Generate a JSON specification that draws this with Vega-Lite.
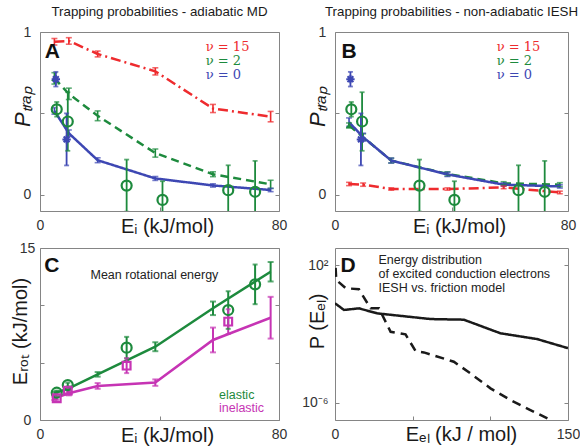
{
  "$schema": "https://vega.github.io/schema/vega-lite/v6.json",
  "background": "white",
  "padding": {"left": 9, "top": 4, "right": 0, "bottom": 0},
  "datasets": {
    "trap": [
      {"panel": "A", "series": "ν=15", "E": 4.82, "P": 0.94, "lo": 0.92, "hi": 0.96},
      {"panel": "A", "series": "ν=15", "E": 9.65, "P": 0.945, "lo": 0.925, "hi": 0.965},
      {"panel": "A", "series": "ν=15", "E": 19.3, "P": 0.865, "lo": 0.847, "hi": 0.883},
      {"panel": "A", "series": "ν=15", "E": 38.6, "P": 0.758, "lo": 0.736, "hi": 0.78},
      {"panel": "A", "series": "ν=15", "E": 57.9, "P": 0.53, "lo": 0.505, "hi": 0.555},
      {"panel": "A", "series": "ν=15", "E": 77.2, "P": 0.48, "lo": 0.448, "hi": 0.512},
      {"panel": "A", "series": "ν=2", "E": 4.82, "P": 0.715, "lo": 0.68, "hi": 0.75},
      {"panel": "A", "series": "ν=2", "E": 9.65, "P": 0.62, "lo": 0.585, "hi": 0.655},
      {"panel": "A", "series": "ν=2", "E": 19.3, "P": 0.485, "lo": 0.455, "hi": 0.515},
      {"panel": "A", "series": "ν=2", "E": 38.6, "P": 0.256, "lo": 0.231, "hi": 0.281},
      {"panel": "A", "series": "ν=2", "E": 57.9, "P": 0.126, "lo": 0.111, "hi": 0.141},
      {"panel": "A", "series": "ν=2", "E": 77.2, "P": 0.064, "lo": 0.039, "hi": 0.089},
      {"panel": "A", "series": "ν=0", "E": 4.82, "P": 0.515, "lo": 0.495, "hi": 0.535},
      {"panel": "A", "series": "ν=0", "E": 9.65, "P": 0.378, "lo": 0.358, "hi": 0.398},
      {"panel": "A", "series": "ν=0", "E": 19.3, "P": 0.212, "lo": 0.197, "hi": 0.227},
      {"panel": "A", "series": "ν=0", "E": 38.6, "P": 0.1, "lo": 0.088, "hi": 0.112},
      {"panel": "A", "series": "ν=0", "E": 57.9, "P": 0.057, "lo": 0.047, "hi": 0.067},
      {"panel": "A", "series": "ν=0", "E": 77.2, "P": 0.029, "lo": 0.019, "hi": 0.039},
      {"panel": "B", "series": "ν=15", "E": 4.82, "P": 0.066, "lo": 0.056, "hi": 0.076},
      {"panel": "B", "series": "ν=15", "E": 9.65, "P": 0.062, "lo": 0.052, "hi": 0.072},
      {"panel": "B", "series": "ν=15", "E": 19.3, "P": 0.035, "lo": 0.028, "hi": 0.042},
      {"panel": "B", "series": "ν=15", "E": 38.6, "P": 0.035, "lo": 0.028, "hi": 0.042},
      {"panel": "B", "series": "ν=15", "E": 57.9, "P": 0.045, "lo": 0.037, "hi": 0.053},
      {"panel": "B", "series": "ν=15", "E": 77.2, "P": 0.014, "lo": 0.006, "hi": 0.022},
      {"panel": "B", "series": "ν=2", "E": 4.82, "P": 0.426, "lo": 0.411, "hi": 0.441},
      {"panel": "B", "series": "ν=2", "E": 9.65, "P": 0.354, "lo": 0.334, "hi": 0.374},
      {"panel": "B", "series": "ν=2", "E": 19.3, "P": 0.21, "lo": 0.195, "hi": 0.225},
      {"panel": "B", "series": "ν=2", "E": 38.6, "P": 0.128, "lo": 0.115, "hi": 0.141},
      {"panel": "B", "series": "ν=2", "E": 57.9, "P": 0.07, "lo": 0.06, "hi": 0.08},
      {"panel": "B", "series": "ν=2", "E": 77.2, "P": 0.062, "lo": 0.05, "hi": 0.074},
      {"panel": "B", "series": "ν=0", "E": 4.82, "P": 0.446, "lo": 0.42, "hi": 0.472},
      {"panel": "B", "series": "ν=0", "E": 9.65, "P": 0.354, "lo": 0.33, "hi": 0.378},
      {"panel": "B", "series": "ν=0", "E": 19.3, "P": 0.21, "lo": 0.195, "hi": 0.225},
      {"panel": "B", "series": "ν=0", "E": 38.6, "P": 0.125, "lo": 0.112, "hi": 0.138},
      {"panel": "B", "series": "ν=0", "E": 57.9, "P": 0.062, "lo": 0.052, "hi": 0.072},
      {"panel": "B", "series": "ν=0", "E": 77.2, "P": 0.051, "lo": 0.041, "hi": 0.061}
    ],
    "trapExp": [
      {"series": "ν=2", "E": 5.6, "P": 0.525, "lo": 0.48, "hi": 0.57},
      {"series": "ν=2", "E": 9.3, "P": 0.45, "lo": 0.27, "hi": 0.63},
      {"series": "ν=2", "E": 29, "P": 0.056, "lo": -0.104, "hi": 0.216},
      {"series": "ν=2", "E": 41, "P": -0.032, "lo": -0.147, "hi": 0.083},
      {"series": "ν=2", "E": 63, "P": 0.028, "lo": -0.125, "hi": 0.181},
      {"series": "ν=2", "E": 72, "P": 0.018, "lo": -0.172, "hi": 0.208},
      {"series": "ν=0", "E": 5.3, "P": 0.71, "lo": 0.665, "hi": 0.755},
      {"series": "ν=0", "E": 8.9, "P": 0.34, "lo": 0.18, "hi": 0.5}
    ],
    "erot": [
      {"series": "elastic", "E": 4.82, "v": 2.33, "lo": 2.18, "hi": 2.48},
      {"series": "elastic", "E": 9.65, "v": 2.76, "lo": 2.6, "hi": 2.92},
      {"series": "elastic", "E": 19.3, "v": 3.98, "lo": 3.78, "hi": 4.18},
      {"series": "elastic", "E": 38.6, "v": 6.39, "lo": 6.0, "hi": 6.78},
      {"series": "elastic", "E": 57.9, "v": 9.74, "lo": 9.15, "hi": 10.33},
      {"series": "elastic", "E": 77.2, "v": 12.93, "lo": 12.08, "hi": 13.78},
      {"series": "inelastic", "E": 4.82, "v": 1.89, "lo": 1.74, "hi": 2.04},
      {"series": "inelastic", "E": 9.65, "v": 2.33, "lo": 2.15, "hi": 2.51},
      {"series": "inelastic", "E": 19.3, "v": 2.97, "lo": 2.72, "hi": 3.22},
      {"series": "inelastic", "E": 38.6, "v": 3.26, "lo": 2.98, "hi": 3.54},
      {"series": "inelastic", "E": 57.9, "v": 6.98, "lo": 5.9, "hi": 8.06},
      {"series": "inelastic", "E": 77.2, "v": 8.92, "lo": 7.1, "hi": 10.74}
    ],
    "erotExp": [
      {"series": "elastic", "E": 5.6, "v": 2.38, "lo": 2.2, "hi": 2.56},
      {"series": "elastic", "E": 9.3, "v": 3.05, "lo": 2.85, "hi": 3.25},
      {"series": "elastic", "E": 29, "v": 6.31, "lo": 5.37, "hi": 7.25},
      {"series": "elastic", "E": 63, "v": 9.59, "lo": 7.95, "hi": 11.23},
      {"series": "elastic", "E": 72, "v": 11.83, "lo": 10.1, "hi": 13.56},
      {"series": "inelastic", "E": 5.6, "v": 1.89, "lo": 1.75, "hi": 2.03},
      {"series": "inelastic", "E": 9.3, "v": 2.56, "lo": 2.36, "hi": 2.76},
      {"series": "inelastic", "E": 29, "v": 4.74, "lo": 4.09, "hi": 5.39},
      {"series": "inelastic", "E": 63, "v": 8.58, "lo": 7.5, "hi": 9.66}
    ],
    "eel": [
      {"model": "IESH", "E": 0, "P": 0.61},
      {"model": "IESH", "E": 5.8, "P": 0.25},
      {"model": "IESH", "E": 15.4, "P": 0.31},
      {"model": "IESH", "E": 27.2, "P": 0.158},
      {"model": "IESH", "E": 61.5, "P": 0.074},
      {"model": "IESH", "E": 82.9, "P": 0.068},
      {"model": "IESH", "E": 106.5, "P": 0.011},
      {"model": "IESH", "E": 130, "P": 0.0051},
      {"model": "IESH", "E": 150, "P": 0.0015},
      {"model": "friction", "E": 0.4, "P": 70},
      {"model": "friction", "E": 0.8, "P": 14},
      {"model": "friction", "E": 6.9, "P": 4.6},
      {"model": "friction", "E": 15.4, "P": 4.0},
      {"model": "friction", "E": 22.9, "P": 0.31},
      {"model": "friction", "E": 28.3, "P": 0.31},
      {"model": "friction", "E": 35.8, "P": 0.0135},
      {"model": "friction", "E": 45.4, "P": 0.0095},
      {"model": "friction", "E": 51.9, "P": 0.001},
      {"model": "friction", "E": 57.2, "P": 0.00085},
      {"model": "friction", "E": 76.5, "P": 0.000245},
      {"model": "friction", "E": 87.2, "P": 0.000051},
      {"model": "friction", "E": 100.1, "P": 0.0000069},
      {"model": "friction", "E": 113, "P": 0.00000145},
      {"model": "friction", "E": 125.8, "P": 0.00000038},
      {"model": "friction", "E": 141, "P": 0.00000008}
    ]
  },
  "columns": 2,
  "bounds": "flush",
  "spacing": {"row": 37, "column": 56},
  "resolve": {"scale": {"color": "independent", "strokeDash": "independent"}},
  "concat": [
    {
      "width": 239,
      "height": 179,
      "title": {"text": "Trapping probabilities - adiabatic MD"},
      "resolve": {"axis": {"y": "independent"}},
      "layer": [
        {
          "layer": [
            {
              "data": {"name": "trap"},
              "transform": [{"filter": "datum.panel === 'A'"}],
              "mark": {"type": "line", "strokeWidth": 2.5, "clip": true},
              "encoding": {
                "x": {"field": "E", "type": "quantitative", "scale": {"domain": [0, 80], "nice": false, "zero": false},
                      "axis": {"values": [0, 40, 80], "labelExpr": "datum.value == 40 ? '' : datum.label", "title": "Eᵢ (kJ/mol)", "titleX": 127, "titleY": 21}},
                "y": {"field": "P", "type": "quantitative", "scale": {"domain": [-0.1, 1], "nice": false, "zero": false},
                      "axis": {"values": [0, 0.5, 1], "labelExpr": "datum.value == 0 ? '0' : datum.value == 1 ? '1' : ''", "title": "Pₜᵣₐₚ", "titleFontStyle": "italic", "titleFontSize": 22, "titleX": -11, "titleY": 74}},
                "color": {"field": "series", "type": "nominal", "scale": {"domain": ["ν=15", "ν=2", "ν=0"], "range": ["#ee2b2e", "#1d8a3d", "#3d47b3"]}, "legend": null},
                "strokeDash": {"field": "series", "type": "nominal", "scale": {"domain": ["ν=15", "ν=2", "ν=0"], "range": [[10, 4, 2, 4], [8, 5], [1, 0]]}, "legend": null}
              }
            },
            {
              "data": {"name": "trap"},
              "transform": [{"filter": "datum.panel === 'A'"}],
              "mark": {"type": "rule", "strokeWidth": 1.6, "clip": true},
              "encoding": {"x": {"field": "E", "type": "quantitative"}, "y": {"field": "lo", "type": "quantitative"}, "y2": {"field": "hi"}, "color": {"field": "series", "type": "nominal", "legend": null}}
            },
            {
              "data": {"name": "trap"},
              "transform": [{"filter": "datum.panel === 'A'"}],
              "mark": {"type": "tick", "orient": "horizontal", "size": 6, "thickness": 1.6, "clip": true},
              "encoding": {"x": {"field": "E", "type": "quantitative"}, "y": {"field": "lo", "type": "quantitative"}, "color": {"field": "series", "type": "nominal", "legend": null}}
            },
            {
              "data": {"name": "trap"},
              "transform": [{"filter": "datum.panel === 'A'"}],
              "mark": {"type": "tick", "orient": "horizontal", "size": 6, "thickness": 1.6, "clip": true},
              "encoding": {"x": {"field": "E", "type": "quantitative"}, "y": {"field": "hi", "type": "quantitative"}, "color": {"field": "series", "type": "nominal", "legend": null}}
            },
            {
              "data": {"name": "trap"},
              "transform": [{"filter": "datum.panel === 'A' && datum.series === 'ν=2' && datum.E < 5"}],
              "mark": {"type": "point", "shape": "triangle-up", "size": 40, "filled": true, "opacity": 1},
              "encoding": {"x": {"field": "E", "type": "quantitative"}, "y": {"field": "P", "type": "quantitative"}, "color": {"field": "series", "type": "nominal", "legend": null}}
            },
            {
              "data": {"name": "trapExp"},
              "mark": {"type": "rule", "strokeWidth": 1.8, "clip": true},
              "encoding": {"x": {"field": "E", "type": "quantitative"}, "y": {"field": "lo", "type": "quantitative"}, "y2": {"field": "hi"}, "color": {"field": "series", "type": "nominal", "legend": null}}
            },
            {
              "data": {"name": "trapExp"},
              "mark": {"type": "tick", "orient": "horizontal", "size": 5, "thickness": 1.8, "clip": true},
              "encoding": {"x": {"field": "E", "type": "quantitative"}, "y": {"field": "lo", "type": "quantitative"}, "color": {"field": "series", "type": "nominal", "legend": null}}
            },
            {
              "data": {"name": "trapExp"},
              "mark": {"type": "tick", "orient": "horizontal", "size": 5, "thickness": 1.8, "clip": true},
              "encoding": {"x": {"field": "E", "type": "quantitative"}, "y": {"field": "hi", "type": "quantitative"}, "color": {"field": "series", "type": "nominal", "legend": null}}
            },
            {
              "data": {"name": "trapExp"},
              "transform": [{"filter": "datum.series === 'ν=2'"}],
              "mark": {"type": "point", "shape": "circle", "size": 100, "strokeWidth": 2.2, "filled": false, "opacity": 1, "clip": true},
              "encoding": {"x": {"field": "E", "type": "quantitative"}, "y": {"field": "P", "type": "quantitative"}, "color": {"field": "series", "type": "nominal", "legend": null}}
            },
            {
              "data": {"name": "trapExp"},
              "transform": [{"filter": "datum.series === 'ν=0'"}],
              "mark": {"type": "point", "shape": "M-1,0H1M0,-1V1M-0.7,-0.7L0.7,0.7M-0.7,0.7L0.7,-0.7", "size": 70, "strokeWidth": 2, "filled": false, "opacity": 1},
              "encoding": {"x": {"field": "E", "type": "quantitative"}, "y": {"field": "P", "type": "quantitative"}, "color": {"field": "series", "type": "nominal", "legend": null}}
            },
            {
              "data": {"values": [{}]},
              "mark": {"type": "text", "text": "ν = 15", "font": "DejaVu Serif", "fontSize": 13, "align": "left", "baseline": "middle"},
              "encoding": {"x": {"datum": 55.5, "type": "quantitative"}, "y": {"datum": 0.905, "type": "quantitative"}, "color": {"datum": "ν=15", "type": "nominal", "legend": null}}
            },
            {
              "data": {"values": [{}]},
              "mark": {"type": "text", "text": "ν = 2", "font": "DejaVu Serif", "fontSize": 13, "align": "left", "baseline": "middle"},
              "encoding": {"x": {"datum": 55.5, "type": "quantitative"}, "y": {"datum": 0.819, "type": "quantitative"}, "color": {"datum": "ν=2", "type": "nominal", "legend": null}}
            },
            {
              "data": {"values": [{}]},
              "mark": {"type": "text", "text": "ν = 0", "font": "DejaVu Serif", "fontSize": 13, "align": "left", "baseline": "middle"},
              "encoding": {"x": {"datum": 55.5, "type": "quantitative"}, "y": {"datum": 0.733, "type": "quantitative"}, "color": {"datum": "ν=0", "type": "nominal", "legend": null}}
            },
            {
              "data": {"values": [{}]},
              "mark": {"type": "text", "text": "A", "fontSize": 21, "fontWeight": "bold", "align": "left", "baseline": "alphabetic", "color": "#111"},
              "encoding": {"x": {"datum": 1.6, "type": "quantitative"}, "y": {"datum": 0.84, "type": "quantitative"}}
            }
          ]
        },
        {
          "data": {"name": "trap"},
          "transform": [{"filter": "datum.panel === 'A'"}],
          "mark": {"type": "point", "opacity": 0},
          "encoding": {
            "y": {"field": "P", "type": "quantitative", "axis": {"orient": "right", "values": [0, 0.5, 1], "labels": false, "title": null}}
          }
        }
      ]
    },
    {
      "width": 233,
      "height": 179,
      "title": {"text": "Trapping probabilities - non-adiabatic IESH"},
      "resolve": {"axis": {"y": "independent"}},
      "layer": [
        {
          "layer": [
            {
              "data": {"name": "trap"},
              "transform": [{"filter": "datum.panel === 'B'"}],
              "mark": {"type": "line", "strokeWidth": 2.5, "clip": true},
              "encoding": {
                "x": {"field": "E", "type": "quantitative", "scale": {"domain": [0, 80], "nice": false, "zero": false},
                      "axis": {"values": [0, 40, 80], "labelExpr": "datum.value == 40 ? '' : datum.label", "title": "Eᵢ (kJ/mol)", "titleX": 124, "titleY": 21}},
                "y": {"field": "P", "type": "quantitative", "scale": {"domain": [-0.1, 1], "nice": false, "zero": false},
                      "axis": {"values": [0, 0.5, 1], "labelExpr": "datum.value == 0 ? '0' : datum.value == 1 ? '1' : ''", "title": "Pₜᵣₐₚ", "titleFontStyle": "italic", "titleFontSize": 22, "titleX": -11, "titleY": 74}},
                "color": {"field": "series", "type": "nominal", "scale": {"domain": ["ν=15", "ν=2", "ν=0"], "range": ["#ee2b2e", "#1d8a3d", "#3d47b3"]}, "legend": null},
                "strokeDash": {"field": "series", "type": "nominal", "scale": {"domain": ["ν=15", "ν=2", "ν=0"], "range": [[10, 4, 2, 4], [8, 5], [1, 0]]}, "legend": null}
              }
            },
            {
              "data": {"name": "trap"},
              "transform": [{"filter": "datum.panel === 'B'"}],
              "mark": {"type": "rule", "strokeWidth": 1.6, "clip": true},
              "encoding": {"x": {"field": "E", "type": "quantitative"}, "y": {"field": "lo", "type": "quantitative"}, "y2": {"field": "hi"}, "color": {"field": "series", "type": "nominal", "legend": null}}
            },
            {
              "data": {"name": "trap"},
              "transform": [{"filter": "datum.panel === 'B'"}],
              "mark": {"type": "tick", "orient": "horizontal", "size": 6, "thickness": 1.6, "clip": true},
              "encoding": {"x": {"field": "E", "type": "quantitative"}, "y": {"field": "lo", "type": "quantitative"}, "color": {"field": "series", "type": "nominal", "legend": null}}
            },
            {
              "data": {"name": "trap"},
              "transform": [{"filter": "datum.panel === 'B'"}],
              "mark": {"type": "tick", "orient": "horizontal", "size": 6, "thickness": 1.6, "clip": true},
              "encoding": {"x": {"field": "E", "type": "quantitative"}, "y": {"field": "hi", "type": "quantitative"}, "color": {"field": "series", "type": "nominal", "legend": null}}
            },
            {
              "data": {"name": "trap"},
              "transform": [{"filter": "datum.panel === 'B' && datum.series === 'ν=2' && datum.E < 5"}],
              "mark": {"type": "point", "shape": "triangle-up", "size": 40, "filled": true, "opacity": 1},
              "encoding": {"x": {"field": "E", "type": "quantitative"}, "y": {"field": "P", "type": "quantitative"}, "color": {"field": "series", "type": "nominal", "legend": null}}
            },
            {
              "data": {"name": "trapExp"},
              "mark": {"type": "rule", "strokeWidth": 1.8, "clip": true},
              "encoding": {"x": {"field": "E", "type": "quantitative"}, "y": {"field": "lo", "type": "quantitative"}, "y2": {"field": "hi"}, "color": {"field": "series", "type": "nominal", "legend": null}}
            },
            {
              "data": {"name": "trapExp"},
              "mark": {"type": "tick", "orient": "horizontal", "size": 5, "thickness": 1.8, "clip": true},
              "encoding": {"x": {"field": "E", "type": "quantitative"}, "y": {"field": "lo", "type": "quantitative"}, "color": {"field": "series", "type": "nominal", "legend": null}}
            },
            {
              "data": {"name": "trapExp"},
              "mark": {"type": "tick", "orient": "horizontal", "size": 5, "thickness": 1.8, "clip": true},
              "encoding": {"x": {"field": "E", "type": "quantitative"}, "y": {"field": "hi", "type": "quantitative"}, "color": {"field": "series", "type": "nominal", "legend": null}}
            },
            {
              "data": {"name": "trapExp"},
              "transform": [{"filter": "datum.series === 'ν=2'"}],
              "mark": {"type": "point", "shape": "circle", "size": 100, "strokeWidth": 2.2, "filled": false, "opacity": 1, "clip": true},
              "encoding": {"x": {"field": "E", "type": "quantitative"}, "y": {"field": "P", "type": "quantitative"}, "color": {"field": "series", "type": "nominal", "legend": null}}
            },
            {
              "data": {"name": "trapExp"},
              "transform": [{"filter": "datum.series === 'ν=0'"}],
              "mark": {"type": "point", "shape": "M-1,0H1M0,-1V1M-0.7,-0.7L0.7,0.7M-0.7,0.7L0.7,-0.7", "size": 70, "strokeWidth": 2, "filled": false, "opacity": 1},
              "encoding": {"x": {"field": "E", "type": "quantitative"}, "y": {"field": "P", "type": "quantitative"}, "color": {"field": "series", "type": "nominal", "legend": null}}
            },
            {
              "data": {"values": [{}]},
              "mark": {"type": "text", "text": "ν = 15", "font": "DejaVu Serif", "fontSize": 13, "align": "left", "baseline": "middle"},
              "encoding": {"x": {"datum": 55.5, "type": "quantitative"}, "y": {"datum": 0.905, "type": "quantitative"}, "color": {"datum": "ν=15", "type": "nominal", "legend": null}}
            },
            {
              "data": {"values": [{}]},
              "mark": {"type": "text", "text": "ν = 2", "font": "DejaVu Serif", "fontSize": 13, "align": "left", "baseline": "middle"},
              "encoding": {"x": {"datum": 55.5, "type": "quantitative"}, "y": {"datum": 0.819, "type": "quantitative"}, "color": {"datum": "ν=2", "type": "nominal", "legend": null}}
            },
            {
              "data": {"values": [{}]},
              "mark": {"type": "text", "text": "ν = 0", "font": "DejaVu Serif", "fontSize": 13, "align": "left", "baseline": "middle"},
              "encoding": {"x": {"datum": 55.5, "type": "quantitative"}, "y": {"datum": 0.733, "type": "quantitative"}, "color": {"datum": "ν=0", "type": "nominal", "legend": null}}
            },
            {
              "data": {"values": [{}]},
              "mark": {"type": "text", "text": "B", "fontSize": 21, "fontWeight": "bold", "align": "left", "baseline": "alphabetic", "color": "#111"},
              "encoding": {"x": {"datum": 2.2, "type": "quantitative"}, "y": {"datum": 0.84, "type": "quantitative"}}
            }
          ]
        },
        {
          "data": {"name": "trap"},
          "transform": [{"filter": "datum.panel === 'B'"}],
          "mark": {"type": "point", "opacity": 0},
          "encoding": {
            "y": {"field": "P", "type": "quantitative", "axis": {"orient": "right", "values": [0, 0.5, 1], "labels": false, "title": null}}
          }
        }
      ]
    },
    {
      "width": 239,
      "height": 172,
      "resolve": {"axis": {"y": "independent"}},
      "layer": [
        {
          "layer": [
            {
              "data": {"name": "erot"},
              "mark": {"type": "line", "strokeWidth": 2.5, "clip": true},
              "encoding": {
                "x": {"field": "E", "type": "quantitative", "scale": {"domain": [0, 80], "nice": false, "zero": false},
                      "axis": {"values": [0, 40, 80], "labelExpr": "datum.value == 40 ? '' : datum.label", "title": "Eᵢ (kJ/mol)", "titleX": 127, "titleY": 21}},
                "y": {"field": "v", "type": "quantitative", "scale": {"domain": [0, 15], "nice": false, "zero": false},
                      "axis": {"values": [0, 5, 10, 15], "labelExpr": "datum.value == 0 ? '0' : datum.value == 15 ? '15' : ''", "title": "Eᵣₒₜ (kJ/mol)", "titleX": -14, "titleY": 83}},
                "color": {"field": "series", "type": "nominal", "scale": {"domain": ["elastic", "inelastic"], "range": ["#1d8a3d", "#c634b4"]}, "legend": null}
              }
            },
            {
              "data": {"name": "erot"},
              "mark": {"type": "rule", "strokeWidth": 2, "clip": true},
              "encoding": {"x": {"field": "E", "type": "quantitative"}, "y": {"field": "lo", "type": "quantitative"}, "y2": {"field": "hi"}, "color": {"field": "series", "type": "nominal", "legend": null}}
            },
            {
              "data": {"name": "erot"},
              "mark": {"type": "tick", "orient": "horizontal", "size": 6, "thickness": 2, "clip": true},
              "encoding": {"x": {"field": "E", "type": "quantitative"}, "y": {"field": "lo", "type": "quantitative"}, "color": {"field": "series", "type": "nominal", "legend": null}}
            },
            {
              "data": {"name": "erot"},
              "mark": {"type": "tick", "orient": "horizontal", "size": 6, "thickness": 2, "clip": true},
              "encoding": {"x": {"field": "E", "type": "quantitative"}, "y": {"field": "hi", "type": "quantitative"}, "color": {"field": "series", "type": "nominal", "legend": null}}
            },
            {
              "data": {"name": "erotExp"},
              "mark": {"type": "rule", "strokeWidth": 2, "clip": true},
              "encoding": {"x": {"field": "E", "type": "quantitative"}, "y": {"field": "lo", "type": "quantitative"}, "y2": {"field": "hi"}, "color": {"field": "series", "type": "nominal", "legend": null}}
            },
            {
              "data": {"name": "erotExp"},
              "mark": {"type": "tick", "orient": "horizontal", "size": 5, "thickness": 2, "clip": true},
              "encoding": {"x": {"field": "E", "type": "quantitative"}, "y": {"field": "lo", "type": "quantitative"}, "color": {"field": "series", "type": "nominal", "legend": null}}
            },
            {
              "data": {"name": "erotExp"},
              "mark": {"type": "tick", "orient": "horizontal", "size": 5, "thickness": 2, "clip": true},
              "encoding": {"x": {"field": "E", "type": "quantitative"}, "y": {"field": "hi", "type": "quantitative"}, "color": {"field": "series", "type": "nominal", "legend": null}}
            },
            {
              "data": {"name": "erotExp"},
              "transform": [{"filter": "datum.series === 'elastic'"}],
              "mark": {"type": "point", "shape": "circle", "size": 100, "strokeWidth": 2.2, "filled": false, "opacity": 1},
              "encoding": {"x": {"field": "E", "type": "quantitative"}, "y": {"field": "v", "type": "quantitative"}, "color": {"field": "series", "type": "nominal", "legend": null}}
            },
            {
              "data": {"name": "erotExp"},
              "transform": [{"filter": "datum.series === 'inelastic'"}],
              "mark": {"type": "point", "shape": "square", "size": 60, "strokeWidth": 2.2, "filled": false, "opacity": 1},
              "encoding": {"x": {"field": "E", "type": "quantitative"}, "y": {"field": "v", "type": "quantitative"}, "color": {"field": "series", "type": "nominal", "legend": null}}
            },
            {
              "data": {"values": [{}]},
              "mark": {"type": "text", "text": "Mean rotational energy", "fontSize": 12.5, "align": "center", "baseline": "middle", "color": "#222"},
              "encoding": {"x": {"datum": 38.3, "type": "quantitative"}, "y": {"datum": 12.65, "type": "quantitative"}}
            },
            {
              "data": {"values": [{}]},
              "mark": {"type": "text", "text": "elastic", "fontSize": 12.5, "align": "left", "baseline": "middle"},
              "encoding": {"x": {"datum": 59.9, "type": "quantitative"}, "y": {"datum": 2.2, "type": "quantitative"}, "color": {"datum": "elastic", "type": "nominal", "legend": null}}
            },
            {
              "data": {"values": [{}]},
              "mark": {"type": "text", "text": "inelastic", "fontSize": 12.5, "align": "left", "baseline": "middle"},
              "encoding": {"x": {"datum": 59.9, "type": "quantitative"}, "y": {"datum": 1.05, "type": "quantitative"}, "color": {"datum": "inelastic", "type": "nominal", "legend": null}}
            },
            {
              "data": {"values": [{}]},
              "mark": {"type": "text", "text": "C", "fontSize": 21, "fontWeight": "bold", "align": "left", "baseline": "alphabetic", "color": "#111"},
              "encoding": {"x": {"datum": 1.4, "type": "quantitative"}, "y": {"datum": 12.9, "type": "quantitative"}}
            }
          ]
        },
        {
          "data": {"name": "erot"},
          "mark": {"type": "point", "opacity": 0},
          "encoding": {
            "y": {"field": "v", "type": "quantitative", "axis": {"orient": "right", "values": [0, 5, 10, 15], "labels": false, "title": null}}
          }
        }
      ]
    },
    {
      "width": 233,
      "height": 172,
      "resolve": {"axis": {"y": "independent"}},
      "layer": [
        {
          "layer": [
            {
              "data": {"name": "eel"},
              "mark": {"type": "line", "strokeWidth": 2.5, "color": "#1a1a1a", "clip": true},
              "encoding": {
                "x": {"field": "E", "type": "quantitative", "scale": {"domain": [0, 150], "nice": false, "zero": false},
                      "axis": {"values": [0, 50, 100, 150], "labelExpr": "datum.value == 0 ? '0' : datum.value == 150 ? '150' : ''", "title": "Eₑₗ (kJ / mol)", "titleX": 126, "titleY": 20}},
                "y": {"field": "P", "type": "quantitative", "scale": {"type": "log", "domain": [0.0000001, 1000], "nice": false},
                      "axis": {"values": [100, 0.000001], "labelExpr": "datum.value > 1 ? '10²' : '10⁻⁶'", "labelAlign": "right", "labelPadding": 11, "title": "P (Eₑₗ)", "titleX": -12, "titleY": 73}},
                "strokeDash": {"field": "model", "type": "nominal", "scale": {"domain": ["IESH", "friction"], "range": [[1, 0], [9, 6]]}, "legend": null}
              }
            },
            {
              "data": {"values": [{}]},
              "mark": {"type": "text", "text": "D", "fontSize": 21, "fontWeight": "bold", "align": "left", "baseline": "alphabetic", "color": "#111"},
              "encoding": {"x": {"datum": 3.5, "type": "quantitative"}, "y": {"datum": 40, "type": "quantitative"}}
            },
            {
              "data": {"values": [{}]},
              "mark": {"type": "text", "text": ["Energy distribution", "of excited conduction electrons", "IESH vs. friction model"], "lineHeight": 14, "fontSize": 12.5, "align": "left", "baseline": "top", "color": "#222"},
              "encoding": {"x": {"datum": 28, "type": "quantitative"}, "y": {"datum": 450, "type": "quantitative"}}
            }
          ]
        },
        {
          "data": {"name": "eel"},
          "mark": {"type": "point", "opacity": 0},
          "encoding": {
            "y": {"field": "P", "type": "quantitative", "axis": {"orient": "right", "values": [100, 0.000001], "labels": false, "title": null}}
          }
        }
      ]
    }
  ],
  "config": {
    "font": "Liberation Sans",
    "view": {"stroke": "#858585", "strokeWidth": 1},
    "title": {"fontSize": 13.3, "fontWeight": "normal", "font": "Liberation Sans", "color": "#1a1a1a", "offset": 7, "anchor": "middle"},
    "axis": {
      "domain": false,
      "grid": false,
      "tickColor": "#858585",
      "tickSize": -4,
      "labelFont": "Liberation Sans",
      "labelFontSize": 14,
      "labelColor": "#333",
      "labelFlush": false,
      "titleFont": "Liberation Sans",
      "titleFontSize": 20,
      "titleFontWeight": "normal",
      "titleColor": "#1a1a1a",
      "titleAlign": "center",
      "titleBaseline": "alphabetic"
    },
    "axisY": {"labelAlign": "center", "labelPadding": 17},
    "axisX": {"labelPadding": 11}
  }
}
